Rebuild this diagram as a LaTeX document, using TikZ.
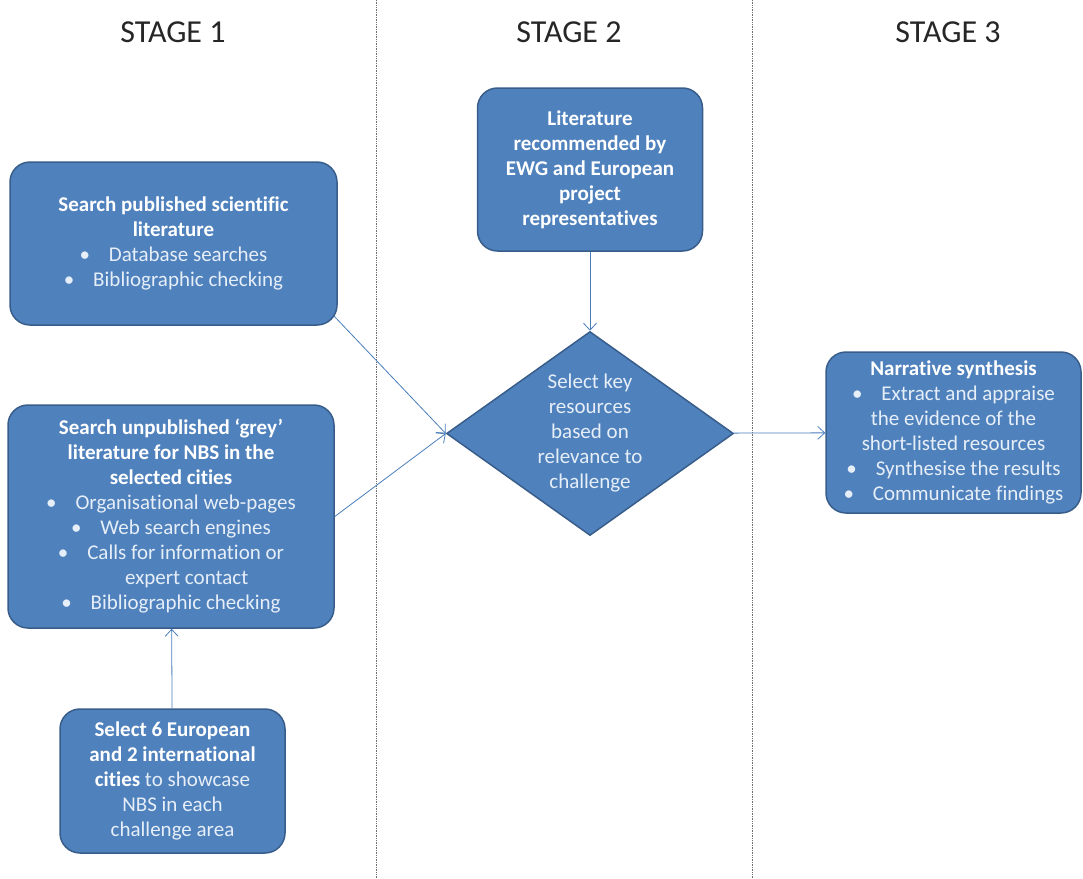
\documentclass[tikz,border=0pt]{standalone}
\usepackage{fontspec}
\setmainfont[Ligatures=NoCommon]{Carlito}
\usetikzlibrary{shapes.geometric,arrows.meta}
\definecolor{boxblue}{HTML}{4F81BD}
\definecolor{boxline}{HTML}{385D8A}
\definecolor{arrowblue}{HTML}{4A7EBB}
\definecolor{itemtext}{HTML}{E6EEF8}
\definecolor{divider}{HTML}{6F6F6F}
\newcommand{\bodyfont}{\fontsize{21}{25}\selectfont}
\newcommand{\itm}[1]{\textcolor{itemtext}{\textbullet\hspace{0.9em}#1}}
\newcommand{\lite}[1]{\textcolor{itemtext}{#1}}
\tikzstyle{blue box}=[
        draw = boxline,
        line width = 1.5pt,
        fill = boxblue,
        rounded corners = 20pt,
        text = white,
        align = center,
        font = \bodyfont,
        inner sep = 2pt
    ]
\tikzstyle{blue diamond}=[
    draw = boxline,
    line width = 1.5pt,
    fill = boxblue,
    diamond,
    aspect = 1.4,
    text = itemtext,
    align = center,
    font = \bodyfont,
    inner sep = 0pt
]
\tikzstyle{stage title}=[
    font = \fontsize{32}{36}\selectfont,
    text = black!85
]

\begin{document}
\begin{tikzpicture}[x=1pt, y=-1pt, link/.style = {draw=arrowblue, line width=0.8pt, -{Straight Barb[length=7pt,width=13pt]}}]
        \useasboundingbox (0,0) rectangle (1083,878);

        % stage columns
        \draw[divider, densely dotted, line width=0.7pt] (376,0) -- (376,878);
        \draw[divider, densely dotted, line width=0.7pt] (752,0) -- (752,878);

        \node[stage title] (s1) at (173,32) {STAGE 1};
        \node[stage title] (s2) at (569,32) {STAGE 2};
        \node[stage title] (s3) at (948,32) {STAGE 3};

        \node[blue box, minimum width=327pt, minimum height=163pt] (pub) at (173.5,243.5)
            {\textbf{Search published scientific}\\ \textbf{literature}\\ \itm{Database searches}\\ \itm{Bibliographic checking}};
        \node[blue box, minimum width=326pt, minimum height=223pt] (grey) at (171,516.5)
            {\textbf{Search unpublished ‘grey’}\\ \textbf{literature for NBS in the}\\ \textbf{selected cities}\\
             \itm{Organisational web-pages}\\ \itm{Web search engines}\\ \itm{Calls for information or}\\
             \hspace{1.5em}\lite{expert contact}\\ \itm{Bibliographic checking}};
        \node[blue box, minimum width=225pt, minimum height=144pt] (cities) at (172.5,781)
            {\textbf{Select 6 European}\\ \textbf{and 2 international}\\ \textbf{cities} \lite{to showcase}\\
             \lite{NBS in each}\\ \lite{challenge area}};
        \node[blue box, minimum width=225pt, minimum height=163pt] (ewg) at (590,169.5)
            {\textbf{Literature}\\ \textbf{recommended by}\\ \textbf{EWG and European}\\ \textbf{project}\\ \textbf{representatives}};
        \node[blue diamond, minimum width=287pt, minimum height=204pt] (select) at (590,433.5)
            {Select key\\ resources\\ based on\\ relevance to\\ challenge};
        \node[blue box, minimum width=255pt, minimum height=161pt] (synth) at (953.5,432.5)
            {\textbf{Narrative synthesis}\\ \itm{Extract and appraise}\\ \lite{the evidence of the}\\
             \lite{short-listed resources}\\ \itm{Synthesise the results}\\ \itm{Communicate findings}};

        \draw[link] ([xshift=-4pt,yshift=10pt]pub.south east) -- (select.west);
        \draw[link] (grey.east) -- (select.west);
        \draw[link] (ewg) -- (select);
        \draw[link] (select) -- (synth);
        \draw[link] (cities) -- (grey);

    \end{tikzpicture}
\end{document}
